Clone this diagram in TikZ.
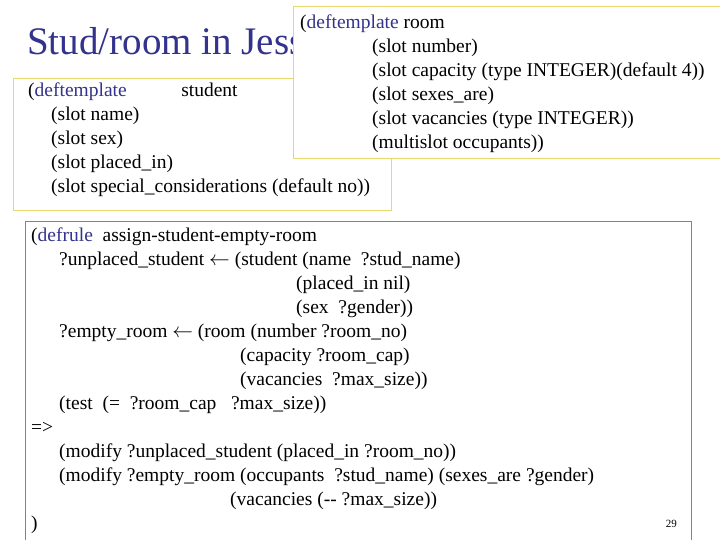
\documentclass[tikz,border=0pt]{standalone}
\usepackage{fontspec}
\setmainfont{Liberation Serif}
\definecolor{kw}{RGB}{51,51,140}
\definecolor{ybox}{RGB}{230,215,110}
\definecolor{gbox}{RGB}{80,170,60}
\begin{document}
\begin{tikzpicture}[x=1pt,y=-1pt,
  t/.style={anchor=base west,inner sep=0pt,font=\fontsize{19.5}{22}\selectfont},
  bx/.style={draw,fill=white,line width=0.8pt}]
\useasboundingbox (0,0) rectangle (720,540);
\fill[white] (0,0) rectangle (720,540);
\node[anchor=base west,inner sep=0pt,font=\fontsize{39}{44}\selectfont,text=kw] (title) at (27,55) {Stud/room in Jess};
% student box
\draw[bx,draw=ybox] (13,78) rectangle (391,210);
\node[t] (s1) at (28,97) {(\textcolor{kw}{deftemplate}\hspace{2.8em}student};
\node[t] (s2) at (51,121) {(slot name)};
\node[t] (s3) at (51,145) {(slot sex)};
\node[t] (s4) at (51,169) {(slot placed\_in)};
\node[t] (s5) at (51,193) {(slot special\_considerations (default no))};
% room box
\draw[bx,draw=ybox] (293,6) rectangle (722,158);
\node[t] (r1) at (300,29) {(\textcolor{kw}{deftemplate} room};
\node[t] (r2) at (372,53) {(slot number)};
\node[t] (r3) at (372,77) {(slot capacity (type INTEGER)(default 4))};
\node[t] (r4) at (372,101) {(slot sexes\_are)};
\node[t] (r5) at (372,125) {(slot vacancies (type INTEGER))};
\node[t] (r6) at (372,149) {(multislot occupants))};
% rule box
\draw[bx,draw=gbox] (25,221) rectangle (691,541);
\node[t] (q1) at (31,241) {(\textcolor{kw}{defrule}\ \ assign-student-empty-room};
\node[t] (q2) at (59,265) {?unplaced\_student $\leftarrow$ (student (name\ \ ?stud\_name)};
\node[t] (q3) at (296,289) {(placed\_in nil)};
\node[t] (q4) at (296,313) {(sex\ \ ?gender))};
\node[t] (q5) at (59,337) {?empty\_room $\leftarrow$ (room (number ?room\_no)};
\node[t] (q6) at (240,361) {(capacity ?room\_cap)};
\node[t] (q7) at (240,385) {(vacancies\ \ ?max\_size))};
\node[t] (q8) at (59,409) {(test\ \ (=\ \ ?room\_cap\ \ \ ?max\_size))};
\node[t] (q9) at (31,433) {=>};
\node[t] (q10) at (59,457) {(modify ?unplaced\_student (placed\_in ?room\_no))};
\node[t] (q11) at (59,481) {(modify ?empty\_room (occupants\ \ ?stud\_name) (sexes\_are ?gender)};
\node[t] (q12) at (230,505) {(vacancies ({-}{-} ?max\_size))};
\node[t] (q13) at (31,529) {)};
\node[anchor=base east,inner sep=0pt,font=\fontsize{11}{13}\selectfont] (pg) at (677,527) {29};
\end{tikzpicture}
\end{document}
